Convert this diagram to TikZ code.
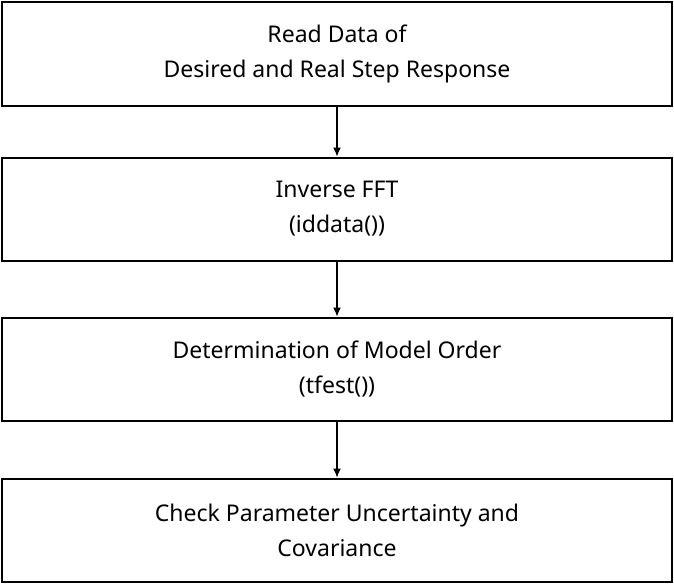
\documentclass[tikz,border=0pt]{standalone}
\usepackage{fontspec}
\setmainfont{Noto Sans}
\usetikzlibrary{arrows.meta, positioning}

\begin{document}
\begin{tikzpicture}[x=1pt, y=1pt,
  stage/.style = {draw, line width=2pt, minimum width=670pt, minimum height=103pt, align=center,
    font=\fontsize{23}{35}\selectfont\bfseries},
  arrow/.style = {line width=1.2pt, -{Latex[length=9pt, width=8pt]}}
]
  \useasboundingbox (0,0) rectangle (674,-586);

  % Process steps
  \node[stage] (read) at (337,-54) {Read Data of\\Desired and Real Step Response};
  \node[stage] (ifft) at (337,-209) {Inverse FFT\\(iddata())};
  \node[stage] (order) at (337,-369) {Determination of Model Order\\(tfest())};
  \node[stage] (check) at (337,-530) {Check Parameter Uncertainty and\\Covariance};

  % Arrows between steps
  \draw[arrow] (read) -- (ifft);
  \draw[arrow] (ifft) -- (order);
  \draw[arrow] (order) -- (check);

\end{tikzpicture}
\end{document}
